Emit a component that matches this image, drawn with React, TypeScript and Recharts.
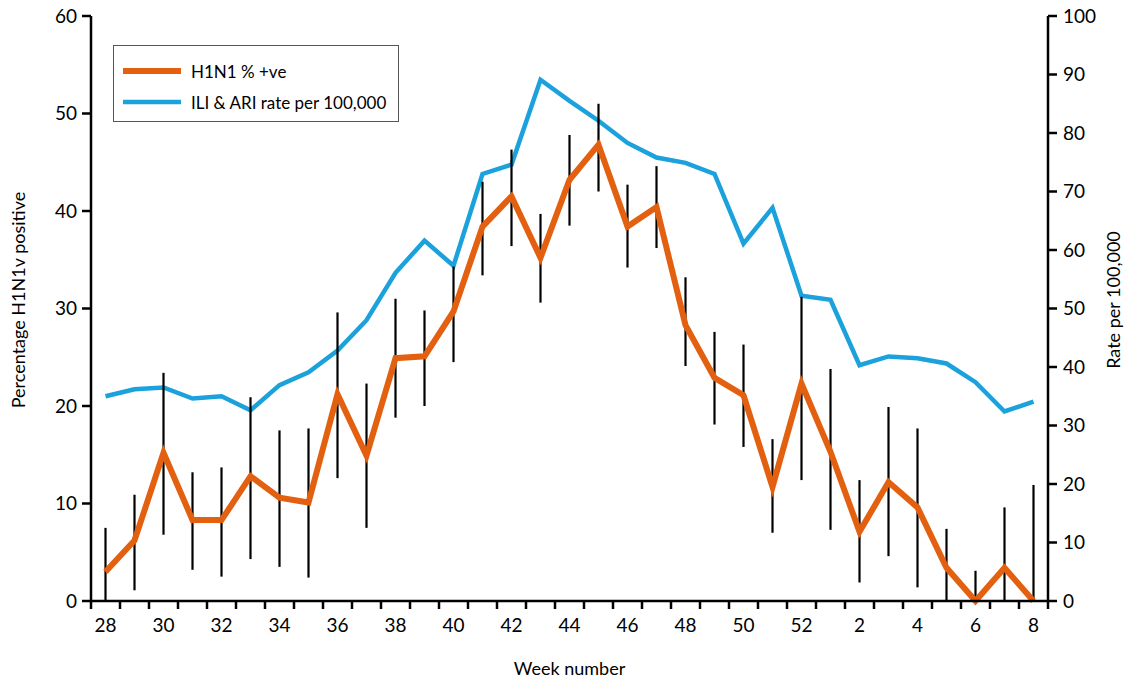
import React from "react";
import { LineChart, Line, XAxis, YAxis, ErrorBar } from "recharts";

// ISO weeks from week 28 through week 8 of the following year
const weeks = [
  "28", "29", "30", "31", "32", "33", "34", "35", "36", "37", "38", "39", "40",
  "41", "42", "43", "44", "45", "46", "47", "48", "49", "50", "51", "52",
  "1", "2", "3", "4", "5", "6", "7", "8",
];

// % of samples positive for H1N1v (left axis)
const h1n1Pct = [
  3.0, 6.2, 15.2, 8.3, 8.3, 12.8, 10.6, 10.1, 21.2, 14.9, 24.9, 25.1, 29.7,
  38.4, 41.5, 35.2, 43.2, 46.8, 38.4, 40.4, 28.3, 22.9, 21.1, 11.7, 22.3,
  15.3, 7.1, 12.2, 9.6, 3.4, 0, 3.4, 0,
];

// 95% confidence limits for the positivity
const ciLow = [
  0, 1.1, 6.8, 3.2, 2.5, 4.3, 3.5, 2.4, 12.6, 7.5, 18.8, 20.0, 24.5,
  33.4, 36.4, 30.6, 38.5, 42.0, 34.2, 36.2, 24.1, 18.1, 15.8, 7.0, 12.4,
  7.3, 1.9, 4.6, 1.4, 0, 0, 0, 0,
];
const ciHigh = [
  7.5, 10.9, 23.4, 13.2, 13.7, 20.9, 17.5, 17.7, 29.6, 22.3, 31.0, 29.8, 34.3,
  43.0, 46.3, 39.7, 47.8, 51.0, 42.7, 44.6, 33.2, 27.6, 26.3, 16.6, 31.2,
  23.8, 12.4, 19.9, 17.7, 7.4, 3.1, 9.6, 11.9,
];

// ILI & ARI consultation rate per 100,000 (right axis)
const iliRate = [
  35.0, 36.2, 36.5, 34.6, 35.0, 32.6, 36.9, 39.1, 42.8, 48.0, 56.1, 61.6, 57.3,
  73.0, 74.6, 89.1, 85.5, 82.1, 78.3, 75.8, 74.9, 73.0, 61.1, 67.2, 52.2,
  51.5, 40.3, 41.8, 41.5, 40.6, 37.4, 32.4, 34.1,
];

const leftTicks = [0, 10, 20, 30, 40, 50, 60];
const rightTicks = [0, 10, 20, 30, 40, 50, 60, 70, 80, 90, 100];

const ORANGE = "#e2600f";
const BLUE = "#1ba1dc";
const FONT = "Lato, 'Open Sans', sans-serif";

const W = 1126;
const H = 681;
const LEFT_W = 91;
const RIGHT_W = 78;
const PLOT_W = W - LEFT_W - RIGHT_W;
const HALF_BAND = PLOT_W / weeks.length / 2;

// each week sits in the middle of its band; ticks mark the band edges
const data = weeks.map((week, i) => ({
  week,
  pos: i + 0.5,
  h1n1: h1n1Pct[i],
  ci: [h1n1Pct[i] - ciLow[i], ciHigh[i] - h1n1Pct[i]],
  ili: iliRate[i],
}));

const bandEdges = weeks.map((_, i) => i).concat(weeks.length);

const WeekTick = (props: any) => {
  const { x, y, payload } = props;
  const i = payload.value as number;
  if (i % 2 !== 0 || i >= weeks.length) return null;
  return (
    <text
      x={x + HALF_BAND}
      y={y}
      dy="0.71em"
      textAnchor="middle"
      fill="#000"
      fontSize={19}
      fontFamily={FONT}
    >
      {weeks[i]}
    </text>
  );
};

const sideTitle = (text: string, x: number) => () =>
  (
    <text
      x={x}
      y={300}
      transform={`rotate(-90 ${x} 300)`}
      textAnchor="middle"
      dominantBaseline="central"
      fontSize={18}
      fontFamily={FONT}
      fill="#000"
    >
      {text}
    </text>
  );

const bottomTitle = () => (
  <text
    x={LEFT_W + PLOT_W / 2}
    y={668}
    textAnchor="middle"
    dominantBaseline="central"
    fontSize={18}
    fontFamily={FONT}
    fill="#000"
  >
    Week number
  </text>
);

const LegendBox = () => (
  <div
    style={{
      position: "absolute",
      left: 113,
      top: 45,
      width: 286,
      height: 77,
      border: "1px solid #555",
      background: "#fff",
      fontFamily: FONT,
      fontSize: 17,
      boxSizing: "border-box",
    }}
  >
    {[
      { label: "H1N1 % +ve", color: ORANGE, width: 6, top: 25 },
      { label: "ILI & ARI rate per 100,000", color: BLUE, width: 4.5, top: 56 },
    ].map((item) => (
      <div
        key={item.label}
        style={{
          position: "absolute",
          left: 9,
          top: item.top - 12,
          height: 24,
          display: "flex",
          alignItems: "center",
          whiteSpace: "nowrap",
        }}
      >
        <svg width={58} height={24}>
          <line x1={0} x2={58} y1={12} y2={12} stroke={item.color} strokeWidth={item.width} />
        </svg>
        <span style={{ marginLeft: 10 }}>{item.label}</span>
      </div>
    ))}
  </div>
);

export default function App() {
  const tickStyle = { fontSize: 19, fontFamily: FONT, fill: "#000" };
  const axisLine = { stroke: "#000", strokeWidth: 2.5 };
  return (
    <div style={{ position: "absolute", left: 0, top: 0, width: W, height: H, background: "#fff" }}>
      <LineChart width={W} height={H} data={data} margin={{ top: 16, right: 0, bottom: 0, left: 0 }}>
        <XAxis
          dataKey="pos"
          type="number"
          domain={[0, weeks.length]}
          ticks={bandEdges}
          interval={0}
          height={80}
          tickSize={8}
          tickMargin={10}
          axisLine={axisLine}
          tickLine={axisLine}
          tick={<WeekTick />}
          label={bottomTitle}
        />
        <YAxis
          yAxisId="left"
          domain={[0, 60]}
          ticks={leftTicks}
          width={LEFT_W}
          tickSize={9}
          tickMargin={5}
          axisLine={axisLine}
          tickLine={axisLine}
          tick={tickStyle}
          label={sideTitle("Percentage H1N1v positive", 18)}
        />
        <YAxis
          yAxisId="right"
          orientation="right"
          domain={[0, 100]}
          ticks={rightTicks}
          width={RIGHT_W}
          tickSize={9}
          tickMargin={6}
          axisLine={axisLine}
          tickLine={axisLine}
          tick={{ ...tickStyle, textAnchor: "start" }}
          label={sideTitle("Rate per 100,000", 1113)}
        />
        <Line
          yAxisId="right"
          dataKey="ili"
          stroke={BLUE}
          strokeWidth={4.5}
          dot={false}
          activeDot={false}
          type="linear"
          isAnimationActive={false}
        />
        <Line
          yAxisId="left"
          dataKey="h1n1"
          stroke={ORANGE}
          strokeWidth={6}
          dot={false}
          activeDot={false}
          type="linear"
          isAnimationActive={false}
        >
          <ErrorBar dataKey="ci" direction="y" width={0} stroke="#000" strokeWidth={2.2} isAnimationActive={false} />
        </Line>
      </LineChart>
      <LegendBox />
    </div>
  );
}
